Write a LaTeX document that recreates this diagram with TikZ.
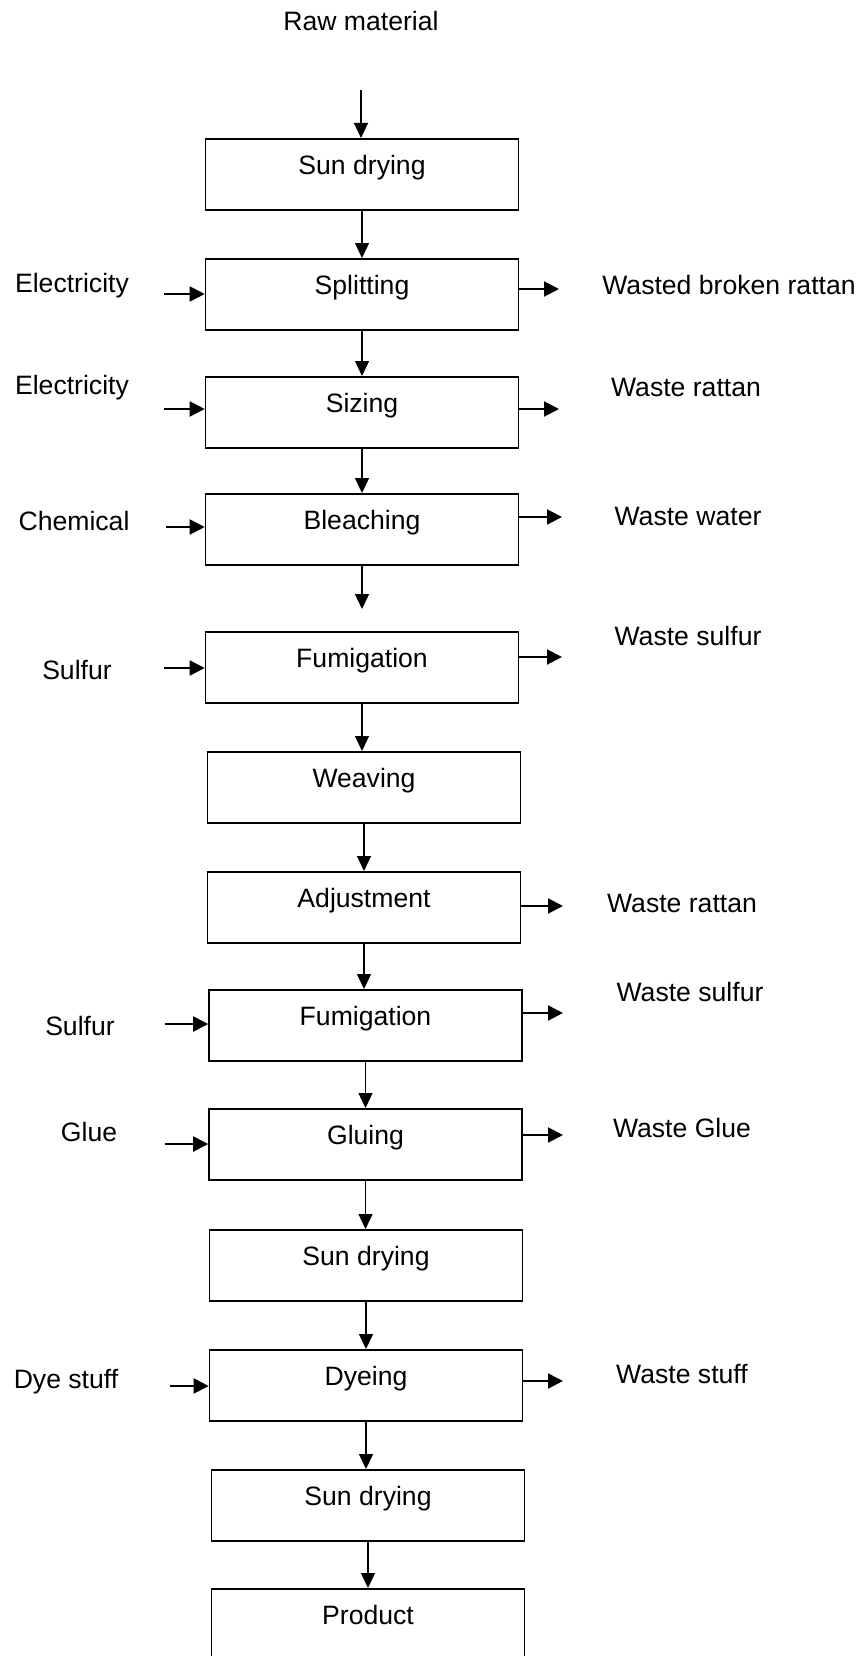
\documentclass[tikz,border=0pt]{standalone}
\usepackage{fontspec}
\setmainfont{Liberation Sans}
\usetikzlibrary{arrows.meta}
\tikzset{
  stepbox/.style = {draw, line width=1.6pt, anchor=north,
                    minimum width=313pt, inner xsep=0pt, inner ysep=0pt,
                    text height=35.5pt, text depth=35.5pt},
  lbl/.style     = {inner sep=0pt},
  flow/.style    = {-{Triangle[length=15pt,width=14pt]}, line width=1.3pt},
  side/.style    = {-{Triangle[length=15pt,width=15pt]}, line width=2pt},
}
\begin{document}
\begin{tikzpicture}[x=1pt,y=-1pt,font=\fontsize{26.6}{32}\selectfont]
  \useasboundingbox (0,0) rectangle (861,1656);
  % main chain
  \node[lbl] (raw) at (361,21) {Raw material};
  \node[stepbox] (b1)  at (362,138)    {Sun drying};
  \node[stepbox] (b2)  at (362,258)    {Splitting};
  \node[stepbox] (b3)  at (362,376)    {Sizing};
  \node[stepbox] (b4)  at (362,493)    {Bleaching};
  \node[stepbox] (b5)  at (362,631)    {Fumigation};
  \node[stepbox] (b6)  at (364,751)    {Weaving};
  \node[stepbox] (b7)  at (364,871)    {Adjustment};
  \node[stepbox] (b8)  at (365.5,989)  {Fumigation};
  \node[stepbox] (b9)  at (365.5,1108) {Gluing};
  \node[stepbox] (b10) at (366,1229)   {Sun drying};
  \node[stepbox] (b11) at (366,1349)   {Dyeing};
  \node[stepbox] (b12) at (368,1469)   {Sun drying};
  \node[stepbox] (b13) at (368,1588)   {Product};

  \coordinate (rawend) at (361,90);
  \coordinate (bleachend) at (363,609);
  \draw[flow] (rawend) -- (rawend |- b1.north);
  \draw[flow] (b1.south) -- (b1.south |- b2.north);
  \draw[flow] (b2.south) -- (b2.south |- b3.north);
  \draw[flow] (b3.south) -- (b3.south |- b4.north);
  \draw[flow] (b4.south) -- (b4.south |- bleachend);
  \draw[flow] (b5.south) -- (b5.south |- b6.north);
  \draw[flow] (b6.south) -- (b6.south |- b7.north);
  \draw[flow] (b7.south) -- (b7.south |- b8.north);
  \draw[flow] (b8.south) -- (b8.south |- b9.north);
  \draw[flow] (b9.south) -- (b9.south |- b10.north);
  \draw[flow] (b10.south) -- (b10.south |- b11.north);
  \draw[flow] (b11.south) -- (b11.south |- b12.north);
  \draw[flow] (b12.south) -- (b12.south |- b13.north);

  % inputs
  \node[lbl] (in2)  at (72,286)  {Electricity};
  \node[lbl] (in3)  at (72,388)  {Electricity};
  \node[lbl] (in4)  at (74,521)  {Chemical};
  \node[lbl] (in5)  at (77,670)  {Sulfur};
  \node[lbl] (in8)  at (80,1026) {Sulfur};
  \node[lbl] (in9)  at (89,1132) {Glue};
  \node[lbl] (in11) at (66,1382) {Dye stuff};
  \coordinate (s2)  at (164,294);
  \coordinate (s3)  at (164,409);
  \coordinate (s4)  at (166,527);
  \coordinate (s5)  at (164,668);
  \coordinate (s8)  at (165,1024);
  \coordinate (s9)  at (165,1144);
  \coordinate (s11) at (170,1386);
  \draw[side] (s2)  -- (s2 -| b2.west);
  \draw[side] (s3)  -- (s3 -| b3.west);
  \draw[side] (s4)  -- (s4 -| b4.west);
  \draw[side] (s5)  -- (s5 -| b5.west);
  \draw[side] (s8)  -- (s8 -| b8.west);
  \draw[side] (s9)  -- (s9 -| b9.west);
  \draw[side] (s11) -- (s11 -| b11.west);

  % wastes
  \node[lbl] (out2)  at (729,285)  {Wasted broken rattan};
  \node[lbl] (out3)  at (686,387)  {Waste rattan};
  \node[lbl] (out4)  at (688,516)  {Waste water};
  \node[lbl] (out5)  at (688,636)  {Waste sulfur};
  \node[lbl] (out7)  at (682,903)  {Waste rattan};
  \node[lbl] (out8)  at (690,992)  {Waste sulfur};
  \node[lbl] (out9)  at (682,1128) {Waste Glue};
  \node[lbl] (out11) at (682,1374) {Waste stuff};
  \coordinate (t2)  at (559,289);
  \coordinate (t3)  at (559,409);
  \coordinate (t4)  at (562,517);
  \coordinate (t5)  at (562,657);
  \coordinate (t7)  at (563,906);
  \coordinate (t8)  at (563,1013);
  \coordinate (t9)  at (563,1135);
  \coordinate (t11) at (563,1381);
  \draw[side] (b2.east |- t2)   -- (t2);
  \draw[side] (b3.east |- t3)   -- (t3);
  \draw[side] (b4.east |- t4)   -- (t4);
  \draw[side] (b5.east |- t5)   -- (t5);
  \draw[side] (b7.east |- t7)   -- (t7);
  \draw[side] (b8.east |- t8)   -- (t8);
  \draw[side] (b9.east |- t9)   -- (t9);
  \draw[side] (b11.east |- t11) -- (t11);
\end{tikzpicture}
\end{document}
